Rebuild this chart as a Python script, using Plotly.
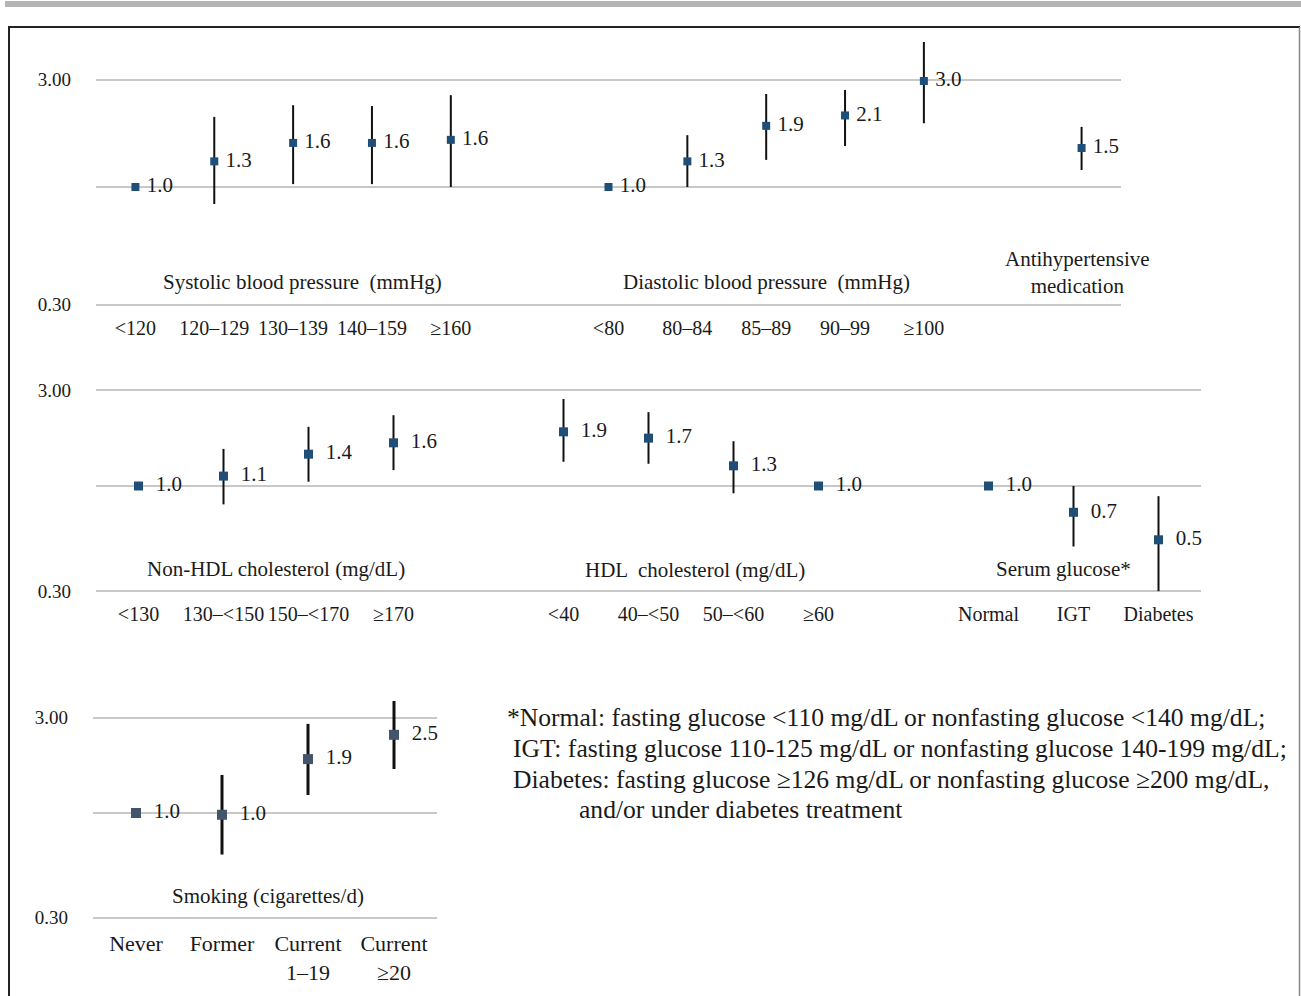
import plotly.graph_objects as go

W, H = 1301, 996          # reference picture size (pixel coordinates below refer to it)
LAYOUT_H = 1004           # page height that the photographer maps onto 996 px

# ---------------- data (odds ratios and 95% CI) -------------
sbp_title = "Systolic blood pressure  (mmHg)"
sbp_cats = ["<120", "120–129", "130–139", "140–159", "≥160"]
sbp_or = [1.0, 1.30, 1.57, 1.57, 1.62]
sbp_lo = [1.0, 0.84, 1.03, 1.03, 1.00]
sbp_hi = [1.0, 2.05, 2.31, 2.29, 2.56]

dbp_title = "Diastolic blood pressure  (mmHg)"
dbp_cats = ["<80", "80–84", "85–89", "90–99", "≥100"]
dbp_or = [1.0, 1.30, 1.87, 2.08, 2.96]
dbp_lo = [1.0, 1.00, 1.32, 1.52, 1.92]
dbp_hi = [1.0, 1.70, 2.59, 2.70, 4.41]

med_title = "Antihypertensive<br>medication"
med_cats = [""]
med_or = [1.49]
med_lo = [1.19]
med_hi = [1.85]

nhdl_title = "Non-HDL cholesterol (mg/dL)"
nhdl_cats = ["<130", "130–<150", "150–<170", "≥170"]
nhdl_or = [1.0, 1.12, 1.44, 1.64]
nhdl_lo = [1.0, 0.81, 1.05, 1.20]
nhdl_hi = [1.0, 1.53, 1.97, 2.25]

hdl_title = "HDL  cholesterol (mg/dL)"
hdl_cats = ["<40", "40–<50", "50–<60", "≥60"]
hdl_or = [1.86, 1.73, 1.26, 1.0]
hdl_lo = [1.32, 1.29, 0.92, 1.0]
hdl_hi = [2.71, 2.33, 1.67, 1.0]

glu_title = "Serum glucose*"
glu_cats = ["Normal", "IGT", "Diabetes"]
glu_or = [1.0, 0.74, 0.54]
glu_lo = [1.0, 0.50, 0.30]
glu_hi = [1.0, 1.00, 0.89]

smk_title = "Smoking (cigarettes/d)"
smk_cats = ["Never", "Former", "Current<br>1–19", "Current<br>≥20"]
smk_or = [1.0, 0.98, 1.86, 2.46]
smk_lo = [1.0, 0.62, 1.23, 1.66]
smk_hi = [1.0, 1.55, 2.79, 3.63]

y_tickvals = [0.3, 1.0, 3.0]
y_ticktext = ["0.30", "", "3.00"]

footnote = [
    "*Normal: fasting glucose <110 mg/dL or nonfasting glucose <140 mg/dL;",
    "IGT: fasting glucose 110-125 mg/dL or nonfasting glucose 140-199 mg/dL;",
    "Diabetes: fasting glucose ≥126 mg/dL or nonfasting glucose ≥200 mg/dL,",
    "and/or under diabetes treatment",
]

# ---------------- helpers ---------------------------------------------------------
FONT = "Liberation Serif"
BLUE = "#1F4E79"
SLATE = "#44546A"
GRID = "#c8c8c8"
NB = "\u00a0"


def pxx(x):
    return x / W


def pxy(y):
    return 1 - y / H


fig = go.Figure()
annotations = []


def add_panel(idx, groups, color, thick, msize, xdom, ydom, one_px, px_per_dec,
              gap, tick_size, tick_standoff):
    xa = "x" if idx == 1 else f"x{idx}"
    ya = "y" if idx == 1 else f"y{idx}"
    start = 0
    tickvals, ticktext = [], []
    for title, cats, orv, lo, hi, tx, ty in groups:
        xs = list(range(start, start + len(cats)))
        start += len(cats) + 1
        tickvals += xs
        ticktext += cats
        fig.add_trace(go.Scatter(
            x=xs, y=orv, xaxis=xa, yaxis=ya, mode="markers+text",
            marker=dict(symbol="square", size=msize, color=color),
            text=[NB * gap + f"{v:.1f}" for v in orv], textposition="middle right",
            textfont=dict(family=FONT, size=21, color="#1a1a1a"),
            error_y=dict(type="data", symmetric=False,
                         array=[h - v for h, v in zip(hi, orv)],
                         arrayminus=[v - l for v, l in zip(orv, lo)],
                         width=0, thickness=thick, color="#111111"),
            cliponaxis=False, showlegend=False, hoverinfo="skip"))
        annotations.append(dict(
            x=pxx(tx), y=pxy(ty), xref="paper", yref="paper", text=title,
            showarrow=False, font=dict(family=FONT, size=21, color="#1a1a1a"),
            xanchor="center", yanchor="middle", align="center"))
    nslots = start - 1
    top_px, bot_px = ydom
    ylog_top = (one_px - top_px) / px_per_dec
    ylog_bot = (one_px - bot_px) / px_per_dec
    key = "" if idx == 1 else str(idx)
    fig.update_layout(**{
        f"xaxis{key}": dict(
            domain=[pxx(xdom[0]), pxx(xdom[1])], range=[-0.5, nslots - 0.5],
            anchor=ya, tickvals=tickvals, ticktext=ticktext, showgrid=False,
            zeroline=False, showline=False, ticks="", ticklabelstandoff=tick_standoff,
            tickfont=dict(family=FONT, size=tick_size, color="#1a1a1a")),
        f"yaxis{key}": dict(
            domain=[pxy(bot_px), pxy(top_px)], type="log",
            range=[ylog_bot, ylog_top], anchor=xa,
            tickvals=y_tickvals, ticktext=y_ticktext, showgrid=True,
            gridcolor=GRID, gridwidth=1.6, zeroline=False, showline=False,
            ticks="", ticklabelstandoff=24,
            tickfont=dict(family=FONT, size=19, color="#1a1a1a")),
    })


add_panel(1, [
    (sbp_title, sbp_cats, sbp_or, sbp_lo, sbp_hi, 302, 282),
    (dbp_title, dbp_cats, dbp_or, dbp_lo, dbp_hi, 767, 282),
    (med_title, med_cats, med_or, med_lo, med_hi, 1077, 272),
], BLUE, 2, 8, (96, 1121), (35, 308), 187, 225, 1, 20, 6)

add_panel(2, [
    (nhdl_title, nhdl_cats, nhdl_or, nhdl_lo, nhdl_hi, 276, 569),
    (hdl_title, hdl_cats, hdl_or, hdl_lo, hdl_hi, 695, 570),
    (glu_title, glu_cats, glu_or, glu_lo, glu_hi, 1063, 569),
], BLUE, 2, 9, (96, 1201), (380, 594), 486, 201, 2, 20, 6)

add_panel(3, [
    (smk_title, smk_cats, smk_or, smk_lo, smk_hi, 268, 896),
], SLATE, 3, 10, (93, 437), (695, 920), 813, 200, 2, 22, 8)

# footnote lines
for line, lx, ly in zip(footnote, [505, 511, 511, 577], [717, 748, 779, 809]):
    annotations.append(dict(
        x=pxx(lx), y=pxy(ly), xref="paper", yref="paper", text=line,
        showarrow=False, xanchor="left", yanchor="middle",
        font=dict(family=FONT, size=25.6, color="#1a1a1a")))

shapes = [
    dict(type="rect", xref="paper", yref="paper", x0=pxx(5), x1=1, y0=pxy(7), y1=pxy(1),
         fillcolor="#b4b4b4", line=dict(width=0), layer="below"),
    dict(type="line", xref="paper", yref="paper", x0=pxx(8), x1=pxx(1300), y0=pxy(27), y1=pxy(27),
         line=dict(color="#222222", width=2)),
    dict(type="line", xref="paper", yref="paper", x0=pxx(9), x1=pxx(9), y0=pxy(27), y1=0,
         line=dict(color="#222222", width=2)),
    dict(type="line", xref="paper", yref="paper", x0=pxx(1299.5), x1=pxx(1299.5), y0=pxy(27), y1=0,
         line=dict(color="#888888", width=1.5)),
]

fig.update_layout(
    width=W, height=LAYOUT_H, margin=dict(l=0, r=0, t=0, b=0),
    paper_bgcolor="white", plot_bgcolor="white",
    font=dict(family=FONT, color="#1a1a1a"),
    annotations=annotations, shapes=shapes, showlegend=False,
)

fig.write_html(
    "out.html",
    config={"displayModeBar": False},
    post_script="document.body.style.margin='0px';document.body.style.overflow='hidden';",
)
